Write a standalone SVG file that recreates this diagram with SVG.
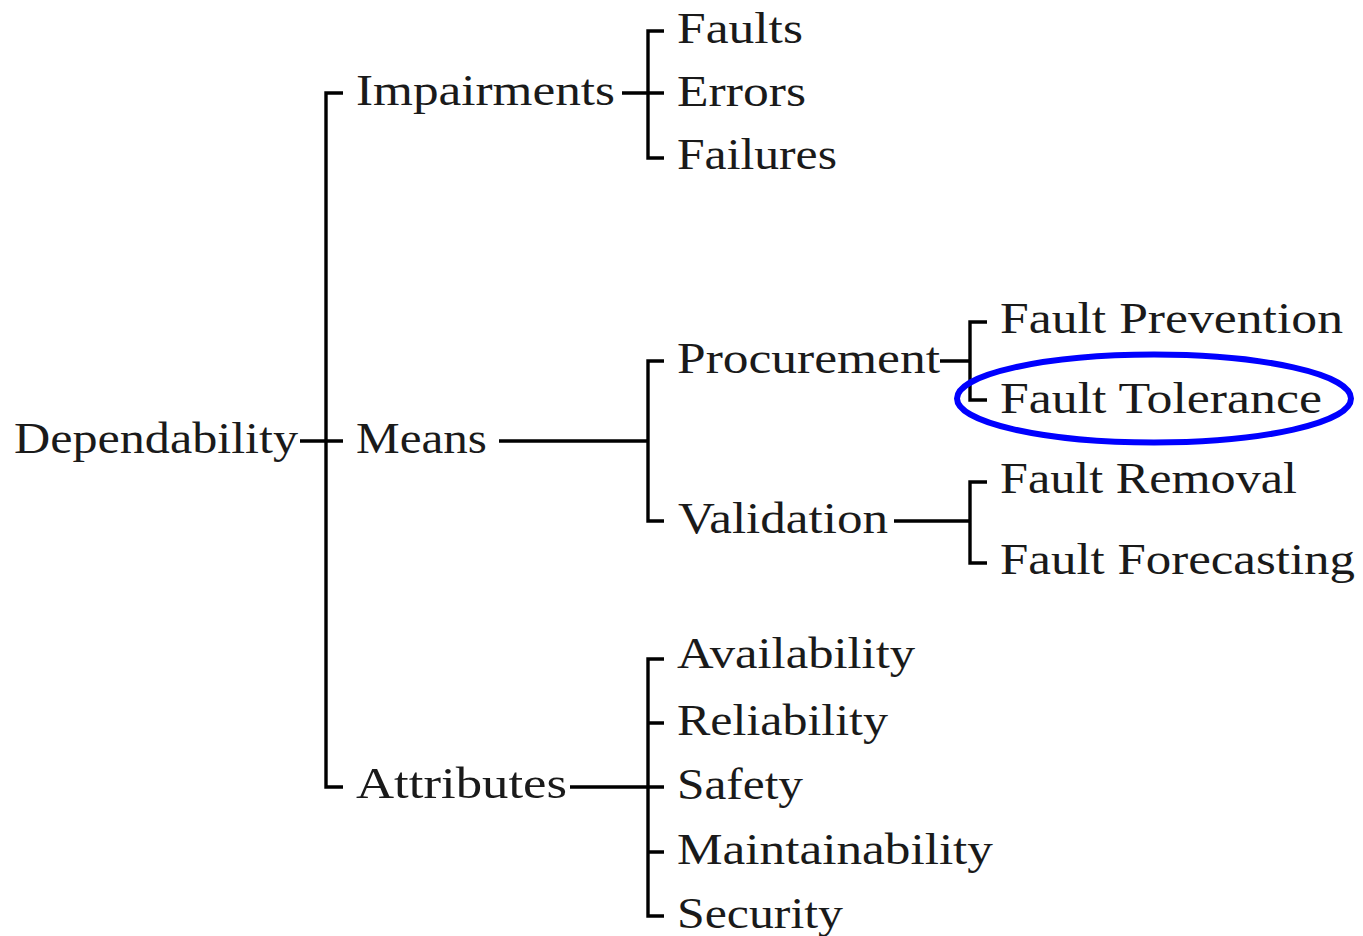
<svg xmlns="http://www.w3.org/2000/svg" width="1363" height="936" viewBox="0 0 1363 936">
<style>
.t{font-family:"Liberation Serif","Times New Roman",serif;font-size:44px;fill:#1a1a1a}
.c{fill:none;stroke:#000;stroke-width:3.4;stroke-linejoin:miter;stroke-linecap:butt}
.hl{fill:none;stroke:#0000ff;stroke-width:6}
</style>
<rect width="1363" height="936" fill="#fff"/>
<g id="connectors">
<path class="c" d="M300,441H343M343,93H326V787H343"/>
<path class="c" d="M622,93H664M664,31H648V158H664"/>
<path class="c" d="M499,441H648M664,361H648V521H664"/>
<path class="c" d="M940,361H970M987,322H970V400H987"/>
<path class="c" d="M894,521H970M987,482H970V563H987"/>
<path class="c" d="M570,787H664M664,659H648V916H664M648,723H664M648,852H664"/>
</g>
<g id="n-dependability"><text class="t" x="14" y="453" textLength="284" lengthAdjust="spacingAndGlyphs">Dependability</text></g>
<g id="n-impairments"><text class="t" x="356" y="105" textLength="259" lengthAdjust="spacingAndGlyphs">Impairments</text></g>
<g id="n-means"><text class="t" x="356" y="453" textLength="131" lengthAdjust="spacingAndGlyphs">Means</text></g>
<g id="n-attributes"><text class="t" x="356" y="798" textLength="211" lengthAdjust="spacingAndGlyphs">Attributes</text></g>
<g id="n-faults"><text class="t" x="677" y="43" textLength="126" lengthAdjust="spacingAndGlyphs">Faults</text></g>
<g id="n-errors"><text class="t" x="677" y="106" textLength="129" lengthAdjust="spacingAndGlyphs">Errors</text></g>
<g id="n-failures"><text class="t" x="677" y="169" textLength="160" lengthAdjust="spacingAndGlyphs">Failures</text></g>
<g id="n-procurement"><text class="t" x="677" y="373" textLength="263" lengthAdjust="spacingAndGlyphs">Procurement</text></g>
<g id="n-validation"><text class="t" x="678" y="533" textLength="210" lengthAdjust="spacingAndGlyphs">Validation</text></g>
<g id="n-fault-prevention"><text class="t" x="1000" y="333" textLength="343" lengthAdjust="spacingAndGlyphs">Fault Prevention</text></g>
<g id="n-fault-tolerance">
<text class="t" x="1000" y="413" textLength="322" lengthAdjust="spacingAndGlyphs">Fault Tolerance</text>
<ellipse class="hl" cx="1154" cy="398.5" rx="197" ry="44"/>
</g>
<g id="n-fault-removal"><text class="t" x="1000" y="493" textLength="297" lengthAdjust="spacingAndGlyphs">Fault Removal</text></g>
<g id="n-fault-forecasting"><text class="t" x="1000" y="574" textLength="355" lengthAdjust="spacingAndGlyphs">Fault Forecasting</text></g>
<g id="n-availability"><text class="t" x="677" y="668" textLength="238" lengthAdjust="spacingAndGlyphs">Availability</text></g>
<g id="n-reliability"><text class="t" x="677" y="735" textLength="211" lengthAdjust="spacingAndGlyphs">Reliability</text></g>
<g id="n-safety"><text class="t" x="677" y="799" textLength="126" lengthAdjust="spacingAndGlyphs">Safety</text></g>
<g id="n-maintainability"><text class="t" x="677" y="864" textLength="316" lengthAdjust="spacingAndGlyphs">Maintainability</text></g>
<g id="n-security"><text class="t" x="677" y="928" textLength="166" lengthAdjust="spacingAndGlyphs">Security</text></g>
</svg>
